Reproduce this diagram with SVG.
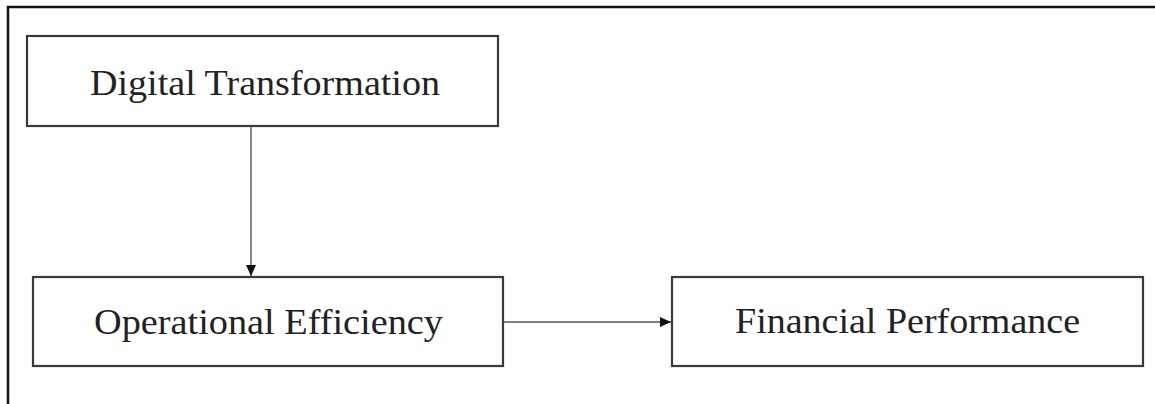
<svg xmlns="http://www.w3.org/2000/svg" width="1155" height="404" viewBox="0 0 1155 404">
<style>
.frame{fill:none;stroke:#111;stroke-width:2.5}
.box{fill:#fff;stroke:#3a3a3a;stroke-width:2.2}
.lbl{font-family:"Liberation Serif","Times New Roman",serif;font-size:36px;fill:#222}
.conn{stroke:#555;stroke-width:1.4;fill:none}
</style>
<defs>
<marker id="arr" markerWidth="12" markerHeight="12" refX="11" refY="6" orient="auto" markerUnits="userSpaceOnUse">
<path d="M0,1 L11,6 L0,11 Z" fill="#111"/>
</marker>
</defs>
<rect class="frame" x="8" y="7" width="1160" height="420"/>
<g id="digital-transformation">
<rect class="box" x="27" y="36" width="471" height="90"/>
<text class="lbl" x="90" y="95" textLength="350" lengthAdjust="spacingAndGlyphs">Digital Transformation</text>
</g>
<g id="operational-efficiency">
<rect class="box" x="33" y="277" width="470" height="89"/>
<text class="lbl" x="94" y="334" textLength="349" lengthAdjust="spacingAndGlyphs">Operational Efficiency</text>
</g>
<g id="financial-performance">
<rect class="box" x="672" y="277" width="471" height="89"/>
<text class="lbl" x="735" y="333" textLength="345" lengthAdjust="spacingAndGlyphs">Financial Performance</text>
</g>
<g id="connectors">
<line class="conn" x1="251" y1="126" x2="251" y2="276" marker-end="url(#arr)"/>
<line class="conn" x1="503" y1="322" x2="671" y2="322" marker-end="url(#arr)"/>
</g>
</svg>
